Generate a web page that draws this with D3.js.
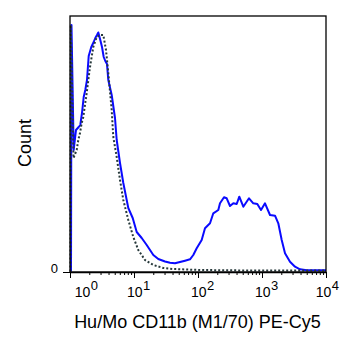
<!DOCTYPE html>
<html>
<head>
<meta charset="utf-8">
<script src="https://cdn.jsdelivr.net/npm/d3@7"></script>
<style>
  html, body { margin: 0; padding: 0; background: #fff; }
  svg { display: block; }
  text { font-family: "Liberation Sans", Arial, sans-serif; fill: #000; }
</style>
</head>
<body>
<svg id="chart" width="349" height="358"></svg>
<script>
// ---- Data ----
const xTitle = "Hu/Mo CD11b (M1/70) PE-Cy5";
const yTitle = "Count";
const majorTicks = [1, 10, 100, 1000, 10000];
const majorExponents = ["0", "1", "2", "3", "4"];
const yTicks = [0];
const yTickLabels = ["0"];

// Stained sample (blue, solid): fluorescence channel values and counts
const stainedX = [1.037, 1.055, 1.142, 1.241, 1.368, 1.448, 1.540, 1.637, 1.734, 1.843,
  1.960, 2.152, 2.346, 2.485, 2.642, 2.769, 2.975, 3.162, 3.362, 3.561,
  3.785, 3.966, 4.483, 5.048, 5.366, 6.043, 6.806, 8.146, 9.544, 11.02,
  13.19, 15.79, 20.03, 23.97, 30.51, 36.52, 43.71, 52.33, 62.65, 74.99,
  84.46, 95.44, 114.2, 128.6, 154.0, 173.4, 207.6, 220.7, 254.9, 280.8,
  316.2, 356.1, 402.5, 441.9, 510.4, 626.5, 731.3, 844.6, 964.7, 1114,
  1334, 1597, 1798, 2032, 2288, 2738, 3278, 3924, 4994, 10000];
const stainedY = [0, 246.5, 121.5, 141.5, 144.5, 146.5, 158.5, 174.5, 181.5, 191.5,
  215.5, 224.5, 229.5, 233.5, 236.5, 239, 231.5, 224.5, 214.5, 210.5,
  207.5, 191.5, 176.5, 153.5, 131.5, 108.5, 88.5, 63.5, 53.5, 39.5,
  33.5, 26.5, 16.5, 12.5, 10, 8.8, 8.2, 9.5, 10.8, 12.2,
  16.5, 23.2, 31.5, 43.2, 48.2, 58.2, 61.5, 68.2, 74.2, 73.2,
  65.5, 68.2, 67.5, 74.8, 64.8, 73.2, 68.2, 67.5, 61.5, 68.2,
  56.5, 55.8, 48.2, 31.5, 18.2, 9.8, 4.8, 2.2, 1.2, 1.2];

// Isotype control (dark, dotted)
const controlX = [1.018, 1.029, 1.134, 1.273, 1.348, 1.433, 1.523, 1.613, 1.823, 2.054,
  2.312, 2.614, 2.943, 3.314, 3.652, 3.966, 4.483, 4.749, 5.366, 6.043,
  6.806, 8.146, 9.752, 11.67, 14.86, 20.03, 28.70, 40.68, 107.5, 649.4, 10000];
const controlY = [0, 246.5, 113.5, 121.5, 131.5, 138.5, 148.5, 154.5, 178.5, 204.5,
  224.5, 234.5, 236.5, 236.5, 221.5, 198.5, 161.5, 134.5, 114.5, 91.5,
  71.5, 51.5, 34.5, 21.5, 11.5, 6.5, 3.5, 2.5, 1.5, 1, 1];

// ---- Chart ----
const svg = d3.select("#chart");
const L = 70, R = 326, T = 16, B = 272;

const x = d3.scaleLog().domain([1, 10000]).range([L, R]);
const y = d3.scaleLinear().domain([0, 256]).range([B - 0.5, T - 0.5]);

const minorTicks = [];
for (let e = 0; e < 4; e++) for (let k = 2; k <= 9; k++) minorTicks.push(k * Math.pow(10, e));

// curves
const line = d3.line().x(d => x(d[0])).y(d => y(d[1]));
svg.append("path")
  .datum(stainedX.map((v, i) => [v, stainedY[i]]))
  .attr("d", line).attr("fill", "none")
  .attr("stroke", "#0a0aff").attr("stroke-width", 2).attr("stroke-linejoin", "round");
svg.append("path")
  .datum(controlX.map((v, i) => [v, controlY[i]]))
  .attr("d", line).attr("fill", "none")
  .attr("stroke", "#26383a").attr("stroke-width", 2).attr("stroke-dasharray", "2,2");

// frame
svg.append("rect").attr("x", L).attr("y", T).attr("width", R - L).attr("height", B - T)
  .attr("fill", "none").attr("stroke", "#000").attr("stroke-width", 1.3);

// x axis (minor + major ticks)
const gx = svg.append("g").attr("transform", `translate(0,${B})`);
gx.append("g").call(d3.axisBottom(x).tickValues(minorTicks).tickSize(3).tickFormat(""))
  .call(g => g.select(".domain").remove());
gx.append("g").call(d3.axisBottom(x).tickValues(majorTicks).tickSize(6).tickFormat("").tickSizeOuter(0))
  .call(g => g.select(".domain").attr("stroke-width", 1.3));
gx.selectAll(".tick line").attr("stroke", "#000");

// x tick labels with superscripts
const lab = svg.append("g");
majorTicks.forEach((v, i) => {
  const shift = i === 0 ? 12.5 : (i === majorTicks.length - 1 ? -2.5 : 0.8);
  const cx = x(v) + shift;
  lab.append("text").attr("x", cx + 7.8).attr("y", 297)
    .attr("text-anchor", "end").attr("font-size", 14).text("10");
  lab.append("text").attr("x", cx + 8.2).attr("y", 289.5)
    .attr("text-anchor", "start").attr("font-size", 13).text(majorExponents[i]);
});

// y axis tick "0"
const gy = svg.append("g").attr("transform", `translate(${L},0)`);
gy.call(d3.axisLeft(y).tickValues(yTicks).tickSize(7).tickPadding(5)
  .tickFormat((d, i) => yTickLabels[i]))
  .call(g => g.select(".domain").remove());
gy.selectAll(".tick line").attr("stroke", "#000").attr("transform", "translate(0,0.5)");
gy.selectAll(".tick text").attr("font-size", 13).attr("dy", "0.05em")
  .style("font-family", "'Liberation Sans', Arial, sans-serif").attr("fill", "#000");

// titles
svg.append("text").attr("x", 197.5).attr("y", 328).attr("text-anchor", "middle")
  .attr("font-size", 18).text(xTitle);
svg.append("text").attr("transform", "translate(31,143) rotate(-90)")
  .attr("text-anchor", "middle").attr("font-size", 18).text(yTitle);
</script>
</body>
</html>
